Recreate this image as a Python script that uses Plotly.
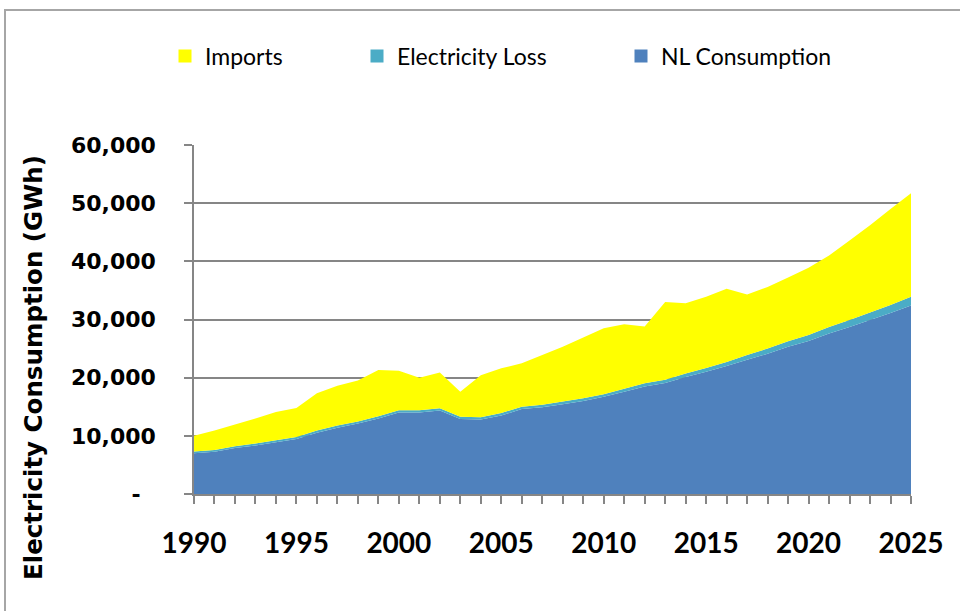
import plotly.graph_objects as go

years = list(range(1990, 2026))
nl_consumption = [7000, 7250, 7900, 8350, 8900, 9450, 10550, 11400, 12100, 13000,
                  14000, 14000, 14350, 12900, 12800, 13500, 14600, 14900, 15450, 16000,
                  16700, 17600, 18500, 19100, 20100, 21000, 22000, 23100, 24100, 25300,
                  26300, 27600, 28700, 29900, 31100, 32400]
electricity_loss = [300, 300, 310, 320, 330, 340, 350, 360, 370, 380,
                    400, 400, 410, 400, 400, 410, 420, 430, 440, 450,
                    470, 500, 520, 550, 600, 650, 700, 800, 900, 950,
                    1050, 1100, 1200, 1300, 1400, 1500]
imports = [2700, 3350, 3740, 4330, 4870, 5010, 6400, 6840, 7030, 7920,
           6800, 5600, 6140, 4300, 7200, 7690, 7480, 8570, 9410, 10450,
           11330, 11100, 9780, 13350, 12100, 12250, 12600, 10400, 10600, 10950,
           11550, 12300, 13700, 15000, 16500, 17800]

x_tickvals = [1990, 1995, 2000, 2005, 2010, 2015, 2020, 2025]
y_tickvals = [0, 10000, 20000, 30000, 40000, 50000, 60000]
y_ticktext = ["-\u2007", "10,000", "20,000", "30,000", "40,000", "50,000", "60,000"]

series = [
    ("NL Consumption", nl_consumption, "#4F81BD", "legend3"),
    ("Electricity Loss", electricity_loss, "#4BACC6", "legend2"),
    ("Imports", imports, "#FFFF00", "legend"),
]

W, H = 960, 611
L, R, T, B = 194, 49, 145, 117
PW, PH = W - L - R, H - T - B

def px(xp):
    return (xp - L) / PW

def py(yp):
    return (H - B - yp) / PH

fig = go.Figure()
for name, vals, color, _ in series:
    fig.add_trace(go.Scatter(x=years, y=vals, name=name, mode="none",
                             stackgroup="one", fillcolor=color,
                             showlegend=False, hoverinfo="x+y+name"))
for name, vals, color, lg in series:
    fig.add_trace(go.Scatter(x=[None], y=[None], name=name, mode="markers",
                             marker=dict(symbol="square", size=13, color=color),
                             showlegend=True, legend=lg))

legend_font = dict(family="Lato", size=23, color="#000000")
leg_common = dict(orientation="h", yanchor="middle", xanchor="left",
                  font=legend_font, bgcolor="rgba(0,0,0,0)", borderwidth=0)

axis_col = "#868686"
fig.update_layout(
    width=W, height=H,
    margin=dict(l=L, r=R, t=T, b=B),
    paper_bgcolor="white", plot_bgcolor="white",
    legend=dict(x=px(165), y=py(56), **leg_common),
    legend2=dict(x=px(357), y=py(56), **leg_common),
    legend3=dict(x=px(621), y=py(56), **leg_common),
    xaxis=dict(range=[1990, 2025], tickvals=x_tickvals,
               ticks="outside", ticklen=8, tickwidth=1.5, tickcolor=axis_col,
               showline=True, linecolor=axis_col, linewidth=1.5,
               showgrid=False, zeroline=False,
               minor=dict(ticks="outside", ticklen=8, tickwidth=1.5, tickcolor=axis_col,
                          dtick=1, tick0=1990, showgrid=False),
               tickfont=dict(family="Lato", size=28, color="#000000", weight="bold"),
               ticklabelstandoff=16),
    yaxis=dict(range=[0, 60000], tickvals=y_tickvals, ticktext=y_ticktext,
               ticks="outside", ticklen=8, tickwidth=1.5, tickcolor=axis_col,
               showline=True, linecolor=axis_col, linewidth=1.5,
               showgrid=True, gridcolor=axis_col, gridwidth=1.5, zeroline=False,
               tickfont=dict(family="DejaVu Sans", size=22, color="#000000", weight="bold"),
               ticklabelstandoff=24),
    annotations=[dict(text="Electricity Consumption (GWh)", textangle=-90,
                      xref="paper", yref="paper", x=px(33), y=py(368),
                      xanchor="center", yanchor="middle", showarrow=False,
                      font=dict(family="DejaVu Sans", size=24.5, color="#000000", weight="bold"))],
    shapes=[dict(type="rect", xref="paper", yref="paper",
                 x0=px(5), x1=px(966), y0=py(614), y1=py(10),
                 line=dict(color="#a6a6a6", width=2), fillcolor="rgba(0,0,0,0)",
                 layer="below")],
)

fig.write_html("out.html", config={"displayModeBar": False},
               post_script="document.body.style.margin='0px';")
